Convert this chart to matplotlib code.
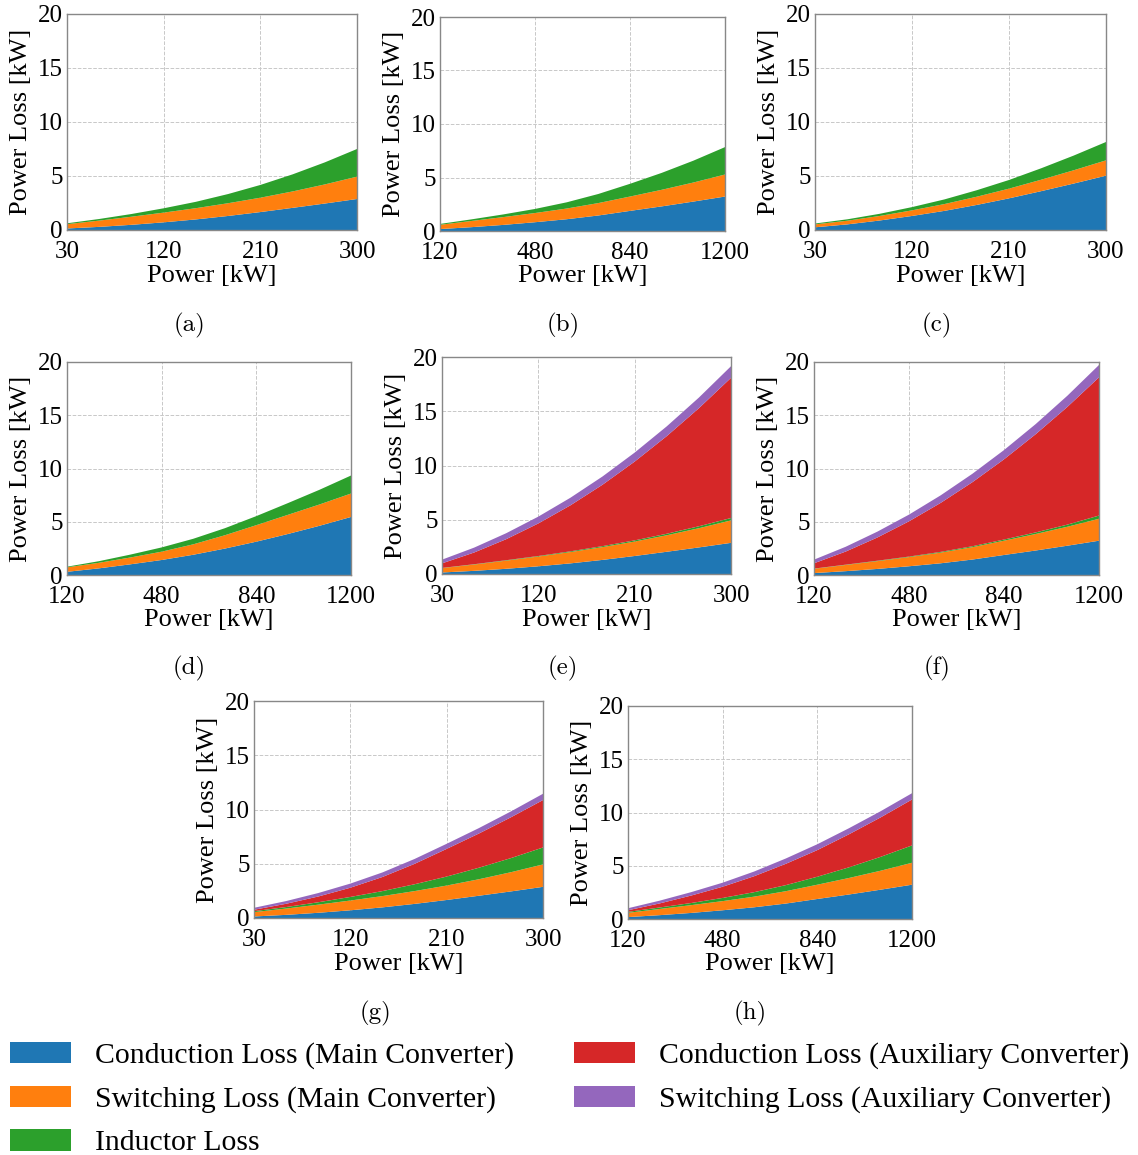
import numpy as np
import matplotlib
matplotlib.use('Agg')
import matplotlib.pyplot as plt
from matplotlib.patches import Patch
from matplotlib import font_manager

# Times-like serif: Liberation Serif if present, otherwise matplotlib's own STIX
_names = {f.name for f in font_manager.fontManager.ttflist}
serif = 'Liberation Serif' if 'Liberation Serif' in _names else 'STIXGeneral'
plt.rcParams['font.family'] = [serif, 'DejaVu Serif']

# --- operating points ---
p_300 = [30, 60, 90, 120, 150, 180, 210, 240, 270, 300]
p_1200 = [120, 240, 360, 480, 600, 720, 840, 960, 1080, 1200]

# --- main converter losses [kW] ---
cond_main_300 = [0.14, 0.29, 0.48, 0.71, 0.98, 1.30, 1.66, 2.05, 2.45, 2.87]
sw_main_300 = [0.40, 0.58, 0.75, 0.90, 1.04, 1.18, 1.33, 1.52, 1.77, 2.07]
cond_main_1200 = [0.18, 0.36, 0.57, 0.82, 1.10, 1.45, 1.88, 2.30, 2.75, 3.22]
sw_main_1200 = [0.40, 0.58, 0.73, 0.86, 1.00, 1.16, 1.34, 1.55, 1.78, 2.06]
cond_main_c = [0.25, 0.52, 0.88, 1.30, 1.77, 2.32, 2.93, 3.60, 4.30, 5.03]
sw_main_c = [0.27, 0.34, 0.42, 0.52, 0.63, 0.76, 0.90, 1.06, 1.23, 1.42]
cond_main_d = [0.30, 0.62, 1.00, 1.41, 1.90, 2.48, 3.13, 3.85, 4.62, 5.45]
sw_main_d = [0.42, 0.52, 0.64, 0.78, 0.98, 1.25, 1.55, 1.80, 2.00, 2.20]

# --- inductor losses [kW] ---
ind_a = [0.08, 0.15, 0.25, 0.40, 0.59, 0.85, 1.18, 1.58, 2.04, 2.56]
ind_b = [0.08, 0.15, 0.25, 0.38, 0.58, 0.85, 1.19, 1.58, 2.04, 2.56]
ind_c = [0.08, 0.13, 0.20, 0.30, 0.43, 0.60, 0.80, 1.06, 1.36, 1.70]
ind_d = [0.06, 0.15, 0.27, 0.40, 0.52, 0.66, 0.85, 1.10, 1.38, 1.69]
ind_e = [0.02, 0.03, 0.04, 0.05, 0.07, 0.09, 0.11, 0.14, 0.18, 0.22]
ind_f = [0.02, 0.03, 0.04, 0.05, 0.07, 0.09, 0.11, 0.15, 0.20, 0.30]
ind_g = [0.09, 0.14, 0.22, 0.33, 0.46, 0.63, 0.83, 1.06, 1.30, 1.56]
ind_h = [0.09, 0.14, 0.20, 0.30, 0.42, 0.57, 0.75, 1.00, 1.30, 1.63]

# --- auxiliary converter losses [kW] ---
cond_aux_e = [0.42, 1.08, 1.94, 3.00, 4.24, 5.66, 7.26, 9.00, 10.88, 12.92]
sw_aux_e = [0.34, 0.45, 0.55, 0.63, 0.70, 0.76, 0.83, 0.90, 0.98, 1.07]
cond_aux_f = [0.50, 1.23, 2.18, 3.31, 4.60, 6.01, 7.53, 9.22, 11.05, 12.98]
sw_aux_f = [0.34, 0.45, 0.55, 0.63, 0.71, 0.79, 0.87, 0.95, 1.05, 1.16]
cond_aux_g = [0.13, 0.30, 0.53, 0.85, 1.30, 1.88, 2.55, 3.15, 3.76, 4.37]
sw_aux_g = [0.18, 0.25, 0.32, 0.38, 0.42, 0.45, 0.47, 0.50, 0.54, 0.58]
cond_aux_h = [0.15, 0.38, 0.70, 1.05, 1.50, 2.00, 2.50, 3.10, 3.70, 4.31]
sw_aux_h = [0.19, 0.26, 0.32, 0.38, 0.44, 0.50, 0.55, 0.57, 0.58, 0.59]

ticks_300 = [30, 120, 210, 300]
ticks_1200 = [120, 480, 840, 1200]

labels = ['Conduction Loss (Main Converter)', 'Switching Loss (Main Converter)',
          'Inductor Loss', 'Conduction Loss (Auxiliary Converter)',
          'Switching Loss (Auxiliary Converter)']
colors = ['#1f77b4', '#ff7f0e', '#2ca02c', '#d62728', '#9467bd']

panels = [
    ('(a)', p_300, ticks_300, [cond_main_300, sw_main_300, ind_a]),
    ('(b)', p_1200, ticks_1200, [cond_main_1200, sw_main_1200, ind_b]),
    ('(c)', p_300, ticks_300, [cond_main_c, sw_main_c, ind_c]),
    ('(d)', p_1200, ticks_1200, [cond_main_d, sw_main_d, ind_d]),
    ('(e)', p_300, ticks_300, [cond_main_300, sw_main_300, ind_e, cond_aux_e, sw_aux_e]),
    ('(f)', p_1200, ticks_1200, [cond_main_1200, sw_main_1200, ind_f, cond_aux_f, sw_aux_f]),
    ('(g)', p_300, ticks_300, [cond_main_300, sw_main_300, ind_g, cond_aux_g, sw_aux_g]),
    ('(h)', p_1200, ticks_1200, [cond_main_1200, sw_main_1200, ind_h, cond_aux_h, sw_aux_h]),
]

# axes boxes in pixels: left, right, top, bottom
W, H = 1138, 1155
boxes = [
    (67, 357, 14, 230), (440, 725, 17, 231), (815, 1106, 14, 230),
    (67, 351, 362, 575), (442, 731, 357, 574), (814, 1099, 362, 575),
    (254, 543, 701, 918), (628, 912, 706, 919),
]
caption_pos = [(189, 325), (563, 325), (937, 325),
               (189, 668), (563, 668), (937, 668),
               (375, 1013), (750, 1013)]

fig = plt.figure(figsize=(W / 100, H / 100), dpi=100)

for (tag, x, xt, layers), (l, r, t, b), (cx, cy) in zip(panels, boxes, caption_pos):
    ax = fig.add_axes([l / W, 1 - b / H, (r - l) / W, (b - t) / H])
    ax.stackplot(x, *layers, colors=colors[:len(layers)], linewidth=0)
    ax.set_xlim(x[0], x[-1])
    ax.set_ylim(0, 20)
    ax.set_xticks(xt)
    ax.set_yticks([0, 5, 10, 15, 20])
    ax.set_axisbelow(True)
    ax.grid(True, linestyle='--', linewidth=0.7, color='#c8c8c8')
    for s in ax.spines.values():
        s.set_color('#888888')
        s.set_linewidth(1.0)
    ax.tick_params(length=0, labelsize=18)
    ax.tick_params(axis='x', pad=8)
    ax.tick_params(axis='y', pad=3)
    ax.set_xlabel('Power [kW]', fontsize=19, labelpad=1)
    ax.set_ylabel('Power Loss [kW]', fontsize=19, labelpad=4)
    fig.text(cx / W, 1 - cy / H, tag, family='cmr10', fontsize=18,
             ha='center', va='center')

handles = [Patch(facecolor=c, edgecolor='none') for c in colors]
fig.legend(handles, labels, loc='upper left', bbox_to_anchor=(10 / W, 1 - 1042 / H),
           ncol=2, frameon=False, fontsize=21.4, handlelength=2.05, handleheight=0.72,
           handletextpad=0.82, columnspacing=2.0, labelspacing=0.55, borderpad=0,
           borderaxespad=0)

fig.savefig('out.png', dpi=100)
